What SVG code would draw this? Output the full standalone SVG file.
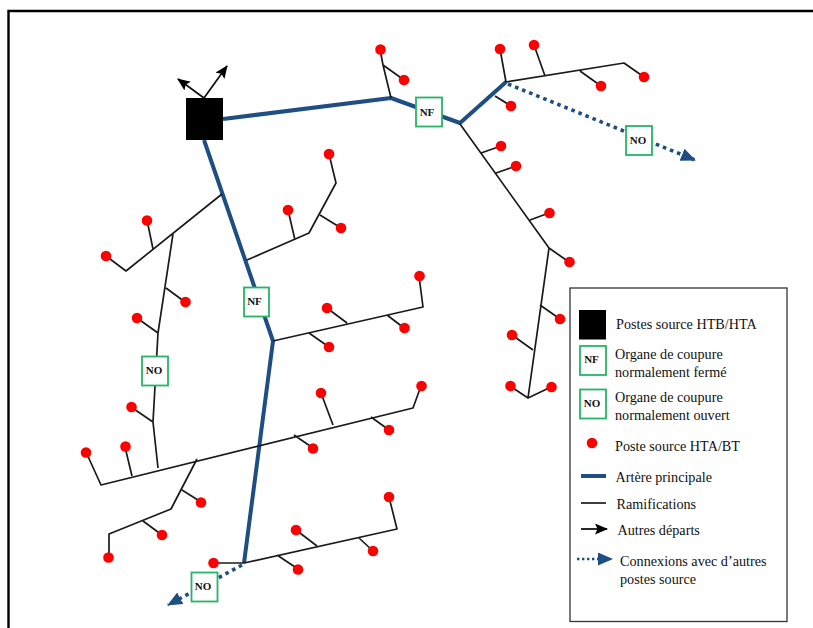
<svg xmlns="http://www.w3.org/2000/svg" width="813" height="628" viewBox="0 0 813 628">
<style>
text{font-family:"Liberation Serif","Times New Roman",serif;fill:#111}
.lbl{font-size:14.200px}
.sw{fill:#fff;stroke:#25b567;stroke-width:1.800}
.swt{font-size:11px;font-weight:bold;text-anchor:middle}
.hv{fill:none;stroke:#1f4e82;stroke-width:4;stroke-linejoin:round}
.br{fill:none;stroke:#1a1a1a;stroke-width:1.700;stroke-linejoin:round}
.dot{stroke:#1f4e82;stroke-width:3.600;stroke-dasharray:3.600 4;fill:none}
.blk{fill:none;stroke:#111;stroke-width:1.800}
.hub{fill:#000}
.load{fill:#fe0000}
</style>
<defs>
<marker id="ab" markerUnits="userSpaceOnUse" markerWidth="14" markerHeight="12" refX="12" refY="5.500" orient="auto"><path d="M0 0L13 5.500L0 11L2.500 5.500Z" fill="#000"/></marker>
<marker id="ah" markerUnits="userSpaceOnUse" markerWidth="16" markerHeight="14" refX="14" refY="6.500" orient="auto"><path d="M0 0L15 6.500L0 13Z" fill="#1f4e82"/></marker>
</defs>
<rect width="813" height="628" fill="#fff"/>
<path d="M8.500 628V11H813" fill="none" stroke="#000" stroke-width="2.400"/>
<g id="connectors">
<path class="hv" d="M223 119L391 98L460 123L506 82"/>
<path class="hv" d="M204 140L273 341L244 563"/>
<path class="dot" d="M508 84L695 160" marker-end="url(#ah)"/>
<path class="dot" d="M242 565L168 605" marker-end="url(#ah)"/>
<path class="blk" d="M204 98L178 79" marker-end="url(#ab)"/>
<path class="blk" d="M204 98L227 66" marker-end="url(#ab)"/>
<path class="br" d="M391 98L383 65L380 49M383 65L404 80"/>
<path class="br" d="M506 82L624 63L644 77M506 82L500 49M545 76L534 45M580 71L601 86M495 96L511 106"/>
<path class="br" d="M460 124L549 248L569 262M481 153L501 146M496 173L516 166M530 220L549 213"/>
<path class="br" d="M549 248L528 398L510 386M528 398L551 387M540 305L560 319M533 350L512 335"/>
<path class="br" d="M222 194L126 271L106 256M153 249L147 220M173 234L158 333L153 422L158 468M166 288L185 302M158 333L137 318M153 422L131 407"/>
<path class="br" d="M247 260L309 233L336 183L329 154M295 240L288 210M320 215L341 228"/>
<path class="br" d="M273 341L423 307L419 276M347 323L327 308M387 315L404 328M309 333L329 347"/>
<path class="br" d="M86 452L101 485L413 408L421 386M132 476L125 447M333 425L321 393M294 435L313 448M371 417L389 430"/>
<path class="br" d="M197 459L171 509L109 534V557M182 490L201 502M143 521L162 535"/>
<path class="br" d="M214 563H244L397 529L389 497M317 546L296 530M359 538L373 551M277 555L298 569"/>
</g>
<g id="source"><rect class="hub" x="186" y="98" width="37" height="42"/></g>
<g id="sw-nf-1"><rect class="sw" x="244" y="287.500" width="25" height="29"/><text class="swt" x="254.500" y="305">NF</text></g>
<g id="sw-nf-2"><rect class="sw" x="416" y="97.500" width="26" height="29"/><text class="swt" x="427" y="115.500">NF</text></g>
<g id="sw-no-1"><rect class="sw" x="626" y="126" width="26" height="29"/><text class="swt" x="638" y="143.500">NO</text></g>
<g id="sw-no-2"><rect class="sw" x="142" y="356.500" width="26" height="29"/><text class="swt" x="154" y="373.500">NO</text></g>
<g id="sw-no-3"><rect class="sw" x="191.500" y="572.500" width="26" height="29"/><text class="swt" x="203" y="590">NO</text></g>
<g id="loads" class="load">
<circle cx="380.500" cy="49.500" r="5.300"/><circle cx="404" cy="80" r="5.300"/>
<circle cx="500" cy="49" r="5.300"/><circle cx="534" cy="45" r="5.300"/><circle cx="601" cy="86" r="5.300"/><circle cx="644" cy="77" r="5.300"/><circle cx="511" cy="106" r="5.300"/>
<circle cx="501" cy="146" r="5.300"/><circle cx="516" cy="166" r="5.300"/><circle cx="549.500" cy="213" r="5.300"/><circle cx="569.500" cy="262" r="5.300"/>
<circle cx="560" cy="319" r="5.300"/><circle cx="512" cy="335" r="5.300"/><circle cx="510.500" cy="386" r="5.300"/><circle cx="551.500" cy="387" r="5.300"/>
<circle cx="329" cy="154" r="5.300"/><circle cx="288" cy="210" r="5.300"/><circle cx="341" cy="228" r="5.300"/>
<circle cx="147" cy="220.500" r="5.300"/><circle cx="106" cy="256" r="5.300"/><circle cx="185.500" cy="302" r="5.300"/><circle cx="137" cy="318" r="5.300"/><circle cx="131.500" cy="407" r="5.300"/>
<circle cx="419.500" cy="276" r="5.300"/><circle cx="327" cy="308" r="5.300"/><circle cx="404.500" cy="328" r="5.300"/><circle cx="329" cy="347" r="5.300"/>
<circle cx="86" cy="452.500" r="5.300"/><circle cx="125.500" cy="446.500" r="5.300"/><circle cx="321" cy="393" r="5.300"/><circle cx="313" cy="448.500" r="5.300"/><circle cx="389" cy="430" r="5.300"/><circle cx="421.500" cy="386" r="5.300"/>
<circle cx="201" cy="502.500" r="5.300"/><circle cx="162" cy="535" r="5.300"/><circle cx="108.500" cy="557.500" r="5.300"/>
<circle cx="389" cy="497" r="5.300"/><circle cx="296" cy="530" r="5.300"/><circle cx="373" cy="551" r="5.300"/><circle cx="298" cy="569.500" r="5.300"/><circle cx="213.500" cy="563" r="5.300"/>
</g>
<g id="legend">
<rect x="570" y="288" width="217" height="333.500" fill="#fff" stroke="#333" stroke-width="1.300"/>
<rect class="hub" x="579" y="310" width="27" height="29.500"/>
<rect class="sw" x="580" y="346" width="26" height="29"/><text class="swt" x="591.500" y="363">NF</text>
<rect class="sw" x="580" y="389.500" width="26" height="29"/><text class="swt" x="592" y="406.500">NO</text>
<circle class="load" cx="592" cy="443" r="5.300"/>
<path class="hv" d="M581 476H606"/>
<path class="br" d="M581 503H606"/>
<path class="blk" d="M581 529H607" marker-end="url(#ab)"/>
<path class="dot" d="M577 559H612" style="stroke-width:2.400;stroke-dasharray:2.400 2.600" marker-end="url(#ah)"/>
<text class="lbl" x="616" y="329">Postes source HTB/HTA</text>
<text class="lbl" x="615" y="359">Organe de coupure</text>
<text class="lbl" x="615" y="377">normalement fermé</text>
<text class="lbl" x="615" y="402">Organe de coupure</text>
<text class="lbl" x="615" y="420">normalement ouvert</text>
<text class="lbl" x="615" y="451">Poste source HTA/BT</text>
<text class="lbl" x="615.500" y="482">Artère principale</text>
<text class="lbl" x="616.500" y="509">Ramifications</text>
<text class="lbl" x="617.500" y="535">Autres départs</text>
<text class="lbl" x="620" y="566">Connexions avec d’autres</text>
<text class="lbl" x="620" y="584">postes source</text>
</g>
</svg>
